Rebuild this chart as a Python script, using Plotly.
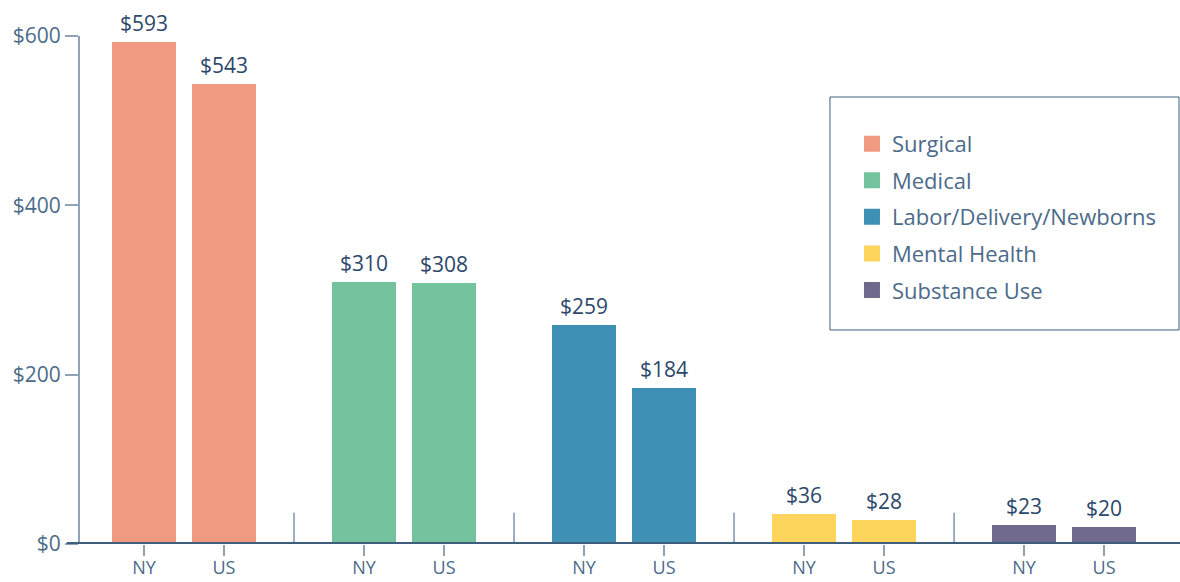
import plotly.graph_objects as go

CATEGORIES = ["Surgical", "Medical", "Labor/Delivery/Newborns", "Mental Health", "Substance Use"]
NY_VALUES = [593, 310, 259, 36, 23]
US_VALUES = [543, 308, 184, 28, 20]
REGIONS = ["NY", "US"]
Y_TICKS = [0, 200, 400, 600]

COLORS = ["#F09B81", "#75C29F", "#3E91B5", "#FDD45C", "#6F6A8C"]
AXIS_DARK = "#3F5E7E"
AXIS_LIGHT = "#8FA3B8"
LABEL = "#4C6B8A"
VALUE_TXT = "#2C476A"
FONT = "Open Sans, sans-serif"

OFFSET = 0.1818  # NY / US offset from group centre
BAR_W = 0.29

fig = go.Figure()

tickvals, ticktext = [], []
for g, (cat, ny, us) in enumerate(zip(CATEGORIES, NY_VALUES, US_VALUES)):
    xs = [g - OFFSET, g + OFFSET]
    vals = [ny, us]
    fig.add_trace(go.Bar(
        x=xs, y=vals, width=BAR_W,
        marker=dict(color=COLORS[g], line_width=0),
        showlegend=False, name=cat, legendgroup=cat,
    ))
    for x, v in zip(xs, vals):
        fig.add_annotation(x=x, y=v, text=f"${v}", showarrow=False,
                           yanchor="bottom", yshift=3,
                           font=dict(color=VALUE_TXT, size=21, family=FONT))
    # legend proxy
    fig.add_trace(go.Scatter(
        x=[None], y=[None], mode="markers", name=cat, legendgroup=cat,
        marker=dict(symbol="square", size=16, color=COLORS[g]),
    ))
    tickvals += xs
    ticktext += REGIONS

# group separators
for g in range(len(CATEGORIES) - 1):
    fig.add_shape(type="line", xref="x", yref="y", x0=g + 0.5, x1=g + 0.5, y0=0, y1=37,
                  line=dict(color=AXIS_DARK, width=1))

# thick baseline
fig.add_shape(type="line", xref="paper", yref="y", x0=-0.012, x1=1, y0=0, y1=0,
              line=dict(color=AXIS_DARK, width=4), layer="above")

# legend frame
fig.add_shape(type="rect", xref="paper", yref="paper", x0=0.6818, x1=0.9991, y0=0.4213, y1=0.8799,
              line=dict(color=AXIS_DARK, width=1), fillcolor="rgba(0,0,0,0)")

fig.update_layout(
    width=1180, height=582,
    margin=dict(l=80, r=0, t=36, b=38),
    paper_bgcolor="white", plot_bgcolor="white",
    font=dict(family=FONT, color=LABEL, size=18),
    bargap=0,
    legend=dict(x=0.7018, y=0.829, xanchor="left", yanchor="top",
                font=dict(size=22, color=LABEL, family=FONT),
                bgcolor="rgba(0,0,0,0)", borderwidth=0, tracegroupgap=5,
                itemwidth=30),
)
fig.update_xaxes(
    range=[-0.4727, 4.527], showgrid=False, zeroline=False, showline=False,
    automargin=False,
    tickmode="array", tickvals=tickvals, ticktext=ticktext,
    ticks="outside", ticklen=11, tickcolor=AXIS_LIGHT, tickwidth=2,
    ticklabelstandoff=-4,
    tickfont=dict(size=18, color=LABEL),
)
fig.update_yaxes(
    range=[0, 600], showgrid=False, zeroline=False, automargin=False,
    showline=True, linecolor=AXIS_LIGHT, linewidth=2,
    tickmode="array", tickvals=Y_TICKS, ticktext=[f"${v}" for v in Y_TICKS],
    ticks="outside", ticklen=13, tickcolor=AXIS_LIGHT, tickwidth=2,
    tickfont=dict(size=21, color=LABEL),
)

fig.write_html("out.html", config={"displayModeBar": False},
               post_script="document.body.style.margin='0';")
